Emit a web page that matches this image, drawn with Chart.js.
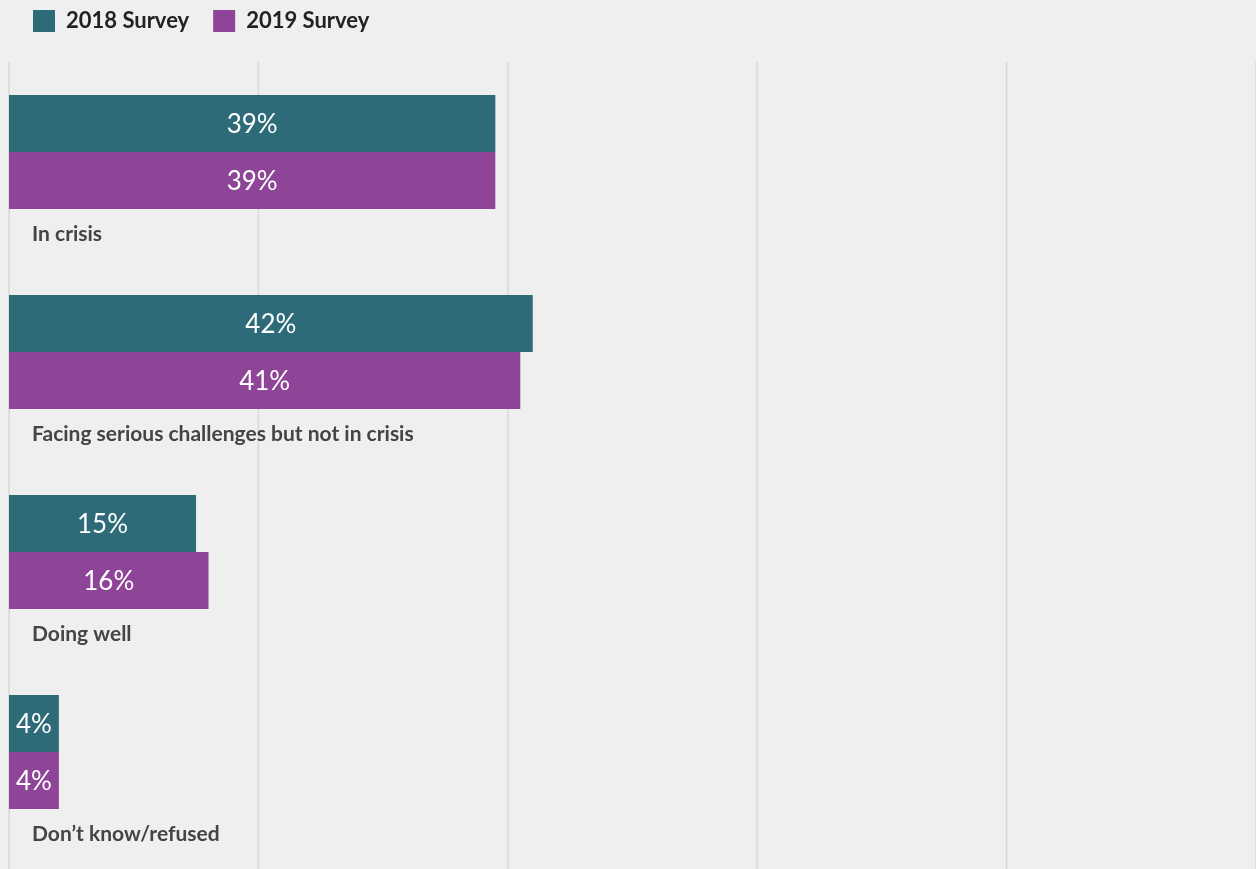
<!DOCTYPE html>
<html>
<head>
  <title>Sector Outlook: 2018 vs 2019 Survey</title>
  <script src="https://cdn.jsdelivr.net/npm/chart.js"></script>
  <style>
    html, body {
      margin: 0;
      padding: 0;
      background: #efefef;
    }
    #wrap {
      width: 1256px;
      height: 869px;
    }
  </style>
</head>
<body>
  <div id="wrap"><canvas id="chart"></canvas></div>

  <script>
    const categories = [
      'In crisis',
      'Facing serious challenges but not in crisis',
      'Doing well',
      'Don\u2019t know/refused'
    ];
    const seriesNames = ['2018 Survey', '2019 Survey'];
    const survey2018 = [39, 42, 15, 4];
    const survey2019 = [39, 41, 16, 4];

    const FONT = 'Lato, "Noto Sans", sans-serif';

    // legend gets a fixed height so the first group sits below it with some air
    const legendHeight = {
      id: 'legendHeight',
      beforeLayout(chart) {
        const legend = chart.legend;
        if (!legend || legend._patched) return;
        const fit = legend.fit;
        legend.fit = function () {
          fit.call(this);
          this.height = 66;
        };
        legend._patched = true;
      }
    };

    // vertical grid lines, running from just under the legend to the bottom edge
    const gridLines = {
      id: 'gridLines',
      beforeDatasetsDraw(chart) {
        const { ctx, scales: { x } } = chart;
        ctx.save();
        ctx.strokeStyle = '#d9d9d9';
        ctx.lineWidth = 1.5;
        x.ticks.forEach(t => {
          const px = x.getPixelForValue(t.value);
          ctx.beginPath();
          ctx.moveTo(px, 62);
          ctx.lineTo(px, chart.height);
          ctx.stroke();
        });
        ctx.restore();
      }
    };

    // percent inside each bar, category name under each pair
    const barText = {
      id: 'barText',
      afterDatasetsDraw(chart) {
        const { ctx, scales: { y } } = chart;
        ctx.save();
        ctx.font = '26px ' + FONT;
        ctx.fillStyle = '#ffffff';
        ctx.textAlign = 'center';
        ctx.textBaseline = 'middle';
        chart.data.datasets.forEach((ds, i) => {
          chart.getDatasetMeta(i).data.forEach((bar, j) => {
            const p = bar.getProps(['x', 'y', 'base'], true);
            ctx.fillText(ds.data[j] + '%', (p.x + p.base) / 2, p.y + 1);
          });
        });

        ctx.font = 'bold 21px ' + FONT;
        ctx.fillStyle = '#444444';
        ctx.textAlign = 'left';
        categories.forEach((name, j) => {
          ctx.fillText(name, 32, y.getPixelForValue(j) + 82);
        });
        ctx.restore();
      }
    };

    const ctx = document.getElementById('chart').getContext('2d');
    new Chart(ctx, {
      type: 'bar',
      data: {
        labels: categories,
        datasets: [
          {
            label: seriesNames[0],
            data: survey2018,
            backgroundColor: '#2e6b78',
            borderWidth: 0
          },
          {
            label: seriesNames[1],
            data: survey2019,
            backgroundColor: '#8e4597',
            borderWidth: 0
          }
        ]
      },
      options: {
        indexAxis: 'y',
        responsive: true,
        maintainAspectRatio: false,
        animation: false,
        categoryPercentage: 0.57,
        barPercentage: 1.0,
        layout: {
          padding: { top: -14, left: 9, right: -1, bottom: 17 }
        },
        scales: {
          x: {
            display: false,
            min: 0,
            max: 100,
            ticks: { stepSize: 20 }
          },
          y: {
            display: false,
            grid: { display: false }
          }
        },
        plugins: {
          legend: {
            position: 'top',
            align: 'start',
            labels: {
              boxWidth: 22,
              boxHeight: 22,
              padding: 24,
              color: '#222222',
              font: { family: FONT, size: 22, weight: 'bold' }
            }
          },
          tooltip: { enabled: false }
        }
      },
      plugins: [legendHeight, gridLines, barText]
    });
  </script>
</body>
</html>
